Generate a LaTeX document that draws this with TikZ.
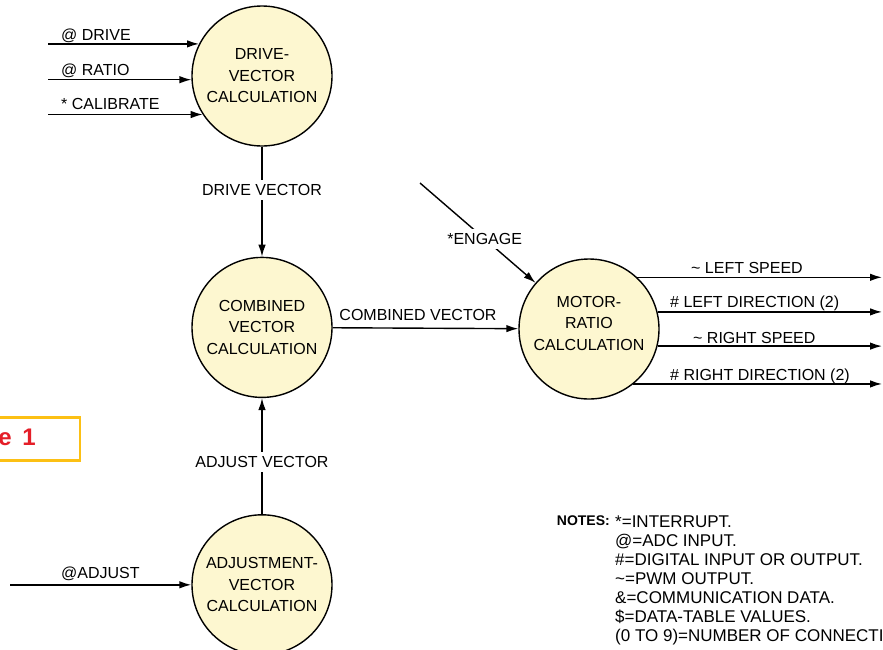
\documentclass[tikz,border=0pt]{standalone}
\usepackage{fontspec}
\setmainfont{Liberation Sans}
\usetikzlibrary{shapes,arrows.meta,positioning}
\definecolor{bubble}{RGB}{253,247,208}
\definecolor{figgold}{RGB}{252,192,20}
\definecolor{figred}{RGB}{228,30,40}

\begin{document}
\begin{tikzpicture}[x=1pt, y=-1pt, node distance=2cm]
	\tikzstyle{process} = [circle, draw, fill=bubble, line width=1.4pt, minimum size=140pt, inner sep=0pt, align=center, font=\fontsize{16}{21.5}\selectfont]
	\tikzstyle{line} = [draw, line width=1.4pt, -{Latex[length=12pt,width=7.5pt]}]
	\tikzstyle{flowlabel} = [font=\fontsize{16}{19}\selectfont, inner sep=1pt, text height=12pt, text depth=3pt]
	\tikzstyle{gaplabel} = [flowlabel, fill=white, inner sep=4pt, text depth=0pt]
	
	\useasboundingbox (0,0) rectangle (883,649);
	
	\node [process] (drive) at (262,76) {DRIVE-\\VECTOR\\CALCULATION};
	\node [process, below=110pt of drive] (combined) {COMBINED\\VECTOR\\CALCULATION};
	\node [process, below=116pt of combined] (adjust) {ADJUSTMENT-\\VECTOR\\CALCULATION};
	\node [process, text depth=12pt] (motor) at (589,329) {MOTOR-\\RATIO\\CALCULATION};
	
	\coordinate (leftin) at (48,0);
	\coordinate (leftadj) at (10,0);
	\coordinate (rightout) at (882,0);
	\coordinate (engage) at (420,183);
	
	\node [flowlabel, anchor=west] (ldrive) at (60,36) {@ DRIVE};
	\node [flowlabel, anchor=west] (lratio) at (60,71) {@ RATIO};
	\node [flowlabel, anchor=west] (lcalib) at (60,105) {* CALIBRATE};
	\node [flowlabel, anchor=west] (ladjust) at (60,574) {@ADJUST};
	\node [flowlabel] (lcombined) at (418,316) {COMBINED VECTOR};
	\node [flowlabel, anchor=west] (lleftspeed) at (690,269) {\textasciitilde{} LEFT SPEED};
	\node [flowlabel, anchor=west] (lleftdir) at (669,303) {\# LEFT DIRECTION (2)};
	\node [flowlabel, anchor=west] (lrightspeed) at (692,339) {\textasciitilde{} RIGHT SPEED};
	\node [flowlabel, anchor=west] (lrightdir) at (669,376) {\# RIGHT DIRECTION (2)};
	
	\path [line] (drive.153 -| leftin) -- (drive.153);
	\path [line] (drive.-177 -| leftin) -- (drive.-177);
	\path [line] (drive.-147 -| leftin) -- (drive.-147);
	\path [line] (adjust.west -| leftadj) -- (adjust.west);
	\path [line] (drive) -- (combined) node [gaplabel, pos=0.39] (ldrivevec) {DRIVE VECTOR};
	\path [line] (adjust) -- (combined) node [gaplabel, pos=0.45] (ladjustvec) {ADJUST VECTOR};
	\path [line] (combined) -- (motor);
	\path [line] (engage) -- (motor) node [gaplabel, pos=0.56] (lengage) {*ENGAGE};
	\path [line] (motor.47) -- (motor.47 -| rightout);
	\path [line] (motor.14) -- (motor.14 -| rightout);
	\path [line] (motor.-14) -- (motor.-14 -| rightout);
	\path [line] (motor.-51) -- (motor.-51 -| rightout);
	
	\node [anchor=east, inner sep=0pt, font=\bfseries\fontsize{14}{16}\selectfont] (notehead) at (610,521) {NOTES:};
	\node [anchor=north west, align=left, inner sep=0pt, font=\fontsize{17}{19}\selectfont] (notelist) at (615,516) {*=INTERRUPT.\\@=ADC INPUT.\\\#=DIGITAL INPUT OR OUTPUT.\\\textasciitilde=PWM OUTPUT.\\\&=COMMUNICATION DATA.\\\$=DATA-TABLE VALUES.\\(0 TO 9)=NUMBER OF CONNECTIONS.};
	
	\node [draw=figgold, line width=2.5pt, text=figred, font=\bfseries\fontsize{24}{26}\selectfont, align=right, text width=110pt, inner xsep=44pt, minimum height=43pt, anchor=east] (figlabel) at (81,439) {Figure\hspace{0.45em}1};
	
\end{tikzpicture}
\end{document}
